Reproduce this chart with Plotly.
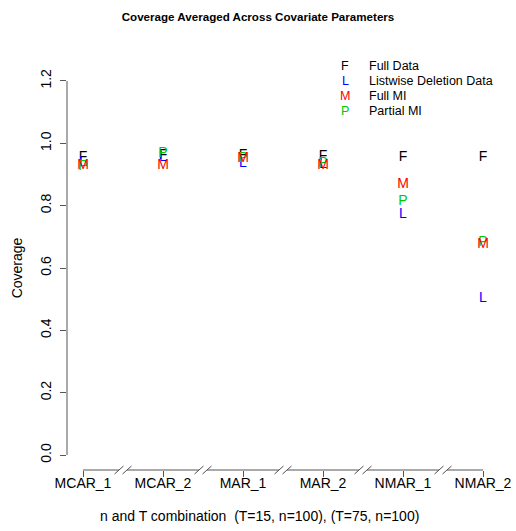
import plotly.graph_objects as go

# ---- data ----
categories = ["MCAR_1", "MCAR_2", "MAR_1", "MAR_2", "NMAR_1", "NMAR_2"]
x_pos = [1, 2, 3, 4, 5, 6]
full_data = [0.955, 0.960, 0.961, 0.957, 0.955, 0.955]
listwise = [0.940, 0.955, 0.935, 0.932, 0.771, 0.502]
partial_mi = [0.927, 0.967, 0.951, 0.935, 0.812, 0.683]
full_mi = [0.930, 0.929, 0.951, 0.929, 0.868, 0.677]

y_ticks = [0.0, 0.2, 0.4, 0.6, 0.8, 1.0, 1.2]
y_tick_text = ["0.0", "0.2", "0.4", "0.6", "0.8", "1.0", "1.2"]

legend_letters = ["F", "L", "M", "P"]
legend_labels = ["Full Data", "Listwise Deletion Data", "Full MI", "Partial MI"]
legend_colors = ["#000000", "#0000FF", "#FF0000", "#00C800"]

FONT = "Liberation Sans, Arial, sans-serif"
AXIS_COLOR = "#555555"

W, H = 516, 531
ML, MR, MT, MB = 67, 17, 66, 61
PW = W - ML - MR
PH = H - MT - MB

series = [
    ("F", full_data, "#000000"),
    ("L", listwise, "#0000FF"),
    ("P", partial_mi, "#00C800"),
    ("M", full_mi, "#FF0000"),
]

fig = go.Figure()
for letter, vals, col in series:
    fig.add_trace(go.Scatter(
        x=x_pos, y=vals, mode="text", text=[letter] * len(vals),
        textposition="middle center",
        textfont=dict(family=FONT, size=14, color=col),
        showlegend=False, hoverinfo="skip", cliponaxis=False))

xr = [0.8, 6.2]
yr = [-0.048, 1.248]

shapes = []
# y axis line from 0 to 1.2
shapes.append(dict(type="line", xref="x domain", yref="y", x0=0, x1=0,
                   y0=y_ticks[0], y1=y_ticks[-1],
                   line=dict(color=AXIS_COLOR, width=1)))
# x axis line with breaks
for i in range(len(x_pos) - 1):
    a, b = x_pos[i], x_pos[i + 1]
    xm = (a + b) / 2
    gap = 0.05
    shapes.append(dict(type="line", xref="x", yref="y domain", x0=a, x1=xm - gap,
                       y0=0, y1=0, line=dict(color=AXIS_COLOR, width=1)))
    shapes.append(dict(type="line", xref="x", yref="y domain", x0=xm + gap, x1=b,
                       y0=0, y1=0, line=dict(color=AXIS_COLOR, width=1)))
    for off in (-4, 4):
        shapes.append(dict(type="line", xref="x", xsizemode="pixel", xanchor=xm,
                           x0=off - 4.5, x1=off + 4.5,
                           yref="y domain", ysizemode="pixel", yanchor=0,
                           y0=-4, y1=4,
                           line=dict(color=AXIS_COLOR, width=1)))


def px_to_paper_x(px):
    return (px - ML) / PW


def px_to_paper_y(py):
    return (H - MB - py) / PH


annotations = []
# legend
for j, (lt, lab, col) in enumerate(zip(legend_letters, legend_labels, legend_colors)):
    yp = px_to_paper_y(66 + 15 * j)
    annotations.append(dict(xref="paper", yref="paper", x=px_to_paper_x(345), y=yp,
                            text=lt, showarrow=False, xanchor="center", yanchor="middle",
                            font=dict(family=FONT, size=12.5, color=col)))
    annotations.append(dict(xref="paper", yref="paper", x=px_to_paper_x(367), y=yp,
                            text=lab, showarrow=False, xanchor="left", yanchor="middle",
                            font=dict(family=FONT, size=12.5, color="#000000")))
# x axis title
annotations.append(dict(xref="paper", yref="paper", x=px_to_paper_x(259), y=px_to_paper_y(516),
                        text="n and T combination  (T=15, n=100), (T=75, n=100)",
                        showarrow=False, xanchor="center", yanchor="middle",
                        font=dict(family=FONT, size=14, color="#000000")))

fig.update_layout(
    width=W, height=H,
    margin=dict(l=ML, r=MR, t=MT, b=MB, autoexpand=False),
    paper_bgcolor="white", plot_bgcolor="white",
    title=dict(text="<b>Coverage Averaged Across Covariate Parameters</b>",
               x=258 / W, xref="container", y=1 - 17 / H, yref="container",
               xanchor="center", yanchor="middle",
               font=dict(family=FONT, size=11.6, color="#000000")),
    xaxis=dict(range=xr, tickvals=x_pos, ticktext=categories, showgrid=False,
               zeroline=False, showline=False, ticks="outside", ticklen=6,
               tickcolor=AXIS_COLOR, ticklabelstandoff=-6,
               tickfont=dict(family=FONT, size=14, color="#000000")),
    yaxis=dict(range=yr, tickvals=y_ticks, ticktext=y_tick_text, showgrid=False,
               zeroline=False, showline=False, ticks="outside", ticklen=6,
               tickcolor=AXIS_COLOR, tickangle=-90, ticklabelstandoff=3,
               tickfont=dict(family=FONT, size=14, color="#000000"),
               title=dict(text="Coverage", standoff=12,
                          font=dict(family=FONT, size=14, color="#000000"))),
    shapes=shapes, annotations=annotations, showlegend=False,
)

fig.write_html(
    "out.html",
    config={"displayModeBar": False},
    post_script="document.body.style.margin='0';document.body.style.overflow='hidden';",
)
